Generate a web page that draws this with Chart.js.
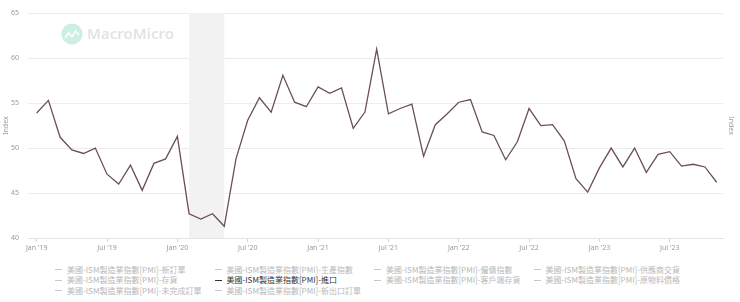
<!DOCTYPE html>
<html lang="zh-Hant">
  <head>
    <meta charset="UTF-8" />
    <title>ISM Imports</title>
    <script src="https://cdn.jsdelivr.net/npm/chart.js@4.4.0/dist/chart.umd.min.js"></script>
    <style>
      body { margin: 0; background: #fff; font-family: "Noto Sans", "Noto Sans CJK TC", sans-serif; }
      .wrap { position: relative; width: 740px; height: 302px; }
      .plot { position: absolute; left: 0; top: 0; width: 740px; height: 258px; }
      .legend {
        position: absolute; left: 55px; top: 264.5px;
        display: grid; grid-template-columns: repeat(4, 159.5px);
        font-size: 8px; line-height: 10.8px; color: #b8b8b8;
        font-family: "Noto Sans CJK TC", "Noto Sans", sans-serif;
      }
      .legend div { white-space: nowrap; }
      .legend span.dash {
        display: inline-block; width: 7px; height: 0; border-top: 1px solid #c8c8c8;
        vertical-align: middle; margin-right: 5px; position: relative; top: -1px;
      }
      .legend div.on { color: #333; }
      .legend div.on span.dash { border-top: 1.5px solid #333; }
    </style>
  </head>
  <body>
    <div class="wrap">
      <div class="plot"><canvas id="pmiChart"></canvas></div>
      <div class="legend" id="legend"></div>
    </div>

    <script>
      // monthly labels Jan 2019 - Nov 2023
      const months = [
        "Jan 2019", "Feb 2019", "Mar 2019", "Apr 2019", "May 2019", "Jun 2019",
        "Jul 2019", "Aug 2019", "Sep 2019", "Oct 2019", "Nov 2019", "Dec 2019",
        "Jan 2020", "Feb 2020", "Mar 2020", "Apr 2020", "May 2020", "Jun 2020",
        "Jul 2020", "Aug 2020", "Sep 2020", "Oct 2020", "Nov 2020", "Dec 2020",
        "Jan 2021", "Feb 2021", "Mar 2021", "Apr 2021", "May 2021", "Jun 2021",
        "Jul 2021", "Aug 2021", "Sep 2021", "Oct 2021", "Nov 2021", "Dec 2021",
        "Jan 2022", "Feb 2022", "Mar 2022", "Apr 2022", "May 2022", "Jun 2022",
        "Jul 2022", "Aug 2022", "Sep 2022", "Oct 2022", "Nov 2022", "Dec 2022",
        "Jan 2023", "Feb 2023", "Mar 2023", "Apr 2023", "May 2023", "Jun 2023",
        "Jul 2023", "Aug 2023", "Sep 2023", "Oct 2023", "Nov 2023"
      ];

      const importsIndex = [
        53.9, 55.3, 51.2, 49.8, 49.4, 50.0, 47.1, 46.0, 48.1, 45.3, 48.3, 48.8,
        51.3, 42.7, 42.1, 42.7, 41.3, 48.8, 53.1, 55.6, 54.0, 58.1, 55.1, 54.6,
        56.8, 56.1, 56.7, 52.2, 54.0, 61.0, 53.8, 54.4, 54.9, 49.1, 52.6, 53.8,
        55.1, 55.4, 51.8, 51.4, 48.7, 50.7, 54.4, 52.5, 52.6, 50.8, 46.6, 45.1,
        47.8, 50.0, 47.9, 50.0, 47.3, 49.3, 49.6, 48.0, 48.2, 47.9, 46.2
      ];

      const xTickLabels = [
        "Jan '19", "Jul '19", "Jan '20", "Jul '20", "Jan '21",
        "Jul '21", "Jan '22", "Jul '22", "Jan '23", "Jul '23"
      ];
      const yTicks = [40, 45, 50, 55, 60, 65];

      // shaded period (recession)
      const shadeFrom = "Feb 2020";
      const shadeTo = "May 2020";

      const seriesNames = [
        "美國-ISM製造業指數[PMI]-新訂單",
        "美國-ISM製造業指數[PMI]-生產指數",
        "美國-ISM製造業指數[PMI]-僱傭指數",
        "美國-ISM製造業指數[PMI]-供應商交貨",
        "美國-ISM製造業指數[PMI]-存貨",
        "美國-ISM製造業指數[PMI]-進口",
        "美國-ISM製造業指數[PMI]-客戶端存貨",
        "美國-ISM製造業指數[PMI]-原物料價格",
        "美國-ISM製造業指數[PMI]-未完成訂單",
        "美國-ISM製造業指數[PMI]-新出口訂單"
      ];
      const shownSeries = "美國-ISM製造業指數[PMI]-進口";

      // legend (html)
      const legendEl = document.getElementById("legend");
      seriesNames.forEach((name) => {
        const d = document.createElement("div");
        if (name === shownSeries) d.className = "on";
        d.innerHTML = '<span class="dash"></span>' + name;
        legendEl.appendChild(d);
      });

      const shadePlugin = {
        id: "shade",
        beforeDatasetsDraw(chart) {
          const { ctx, chartArea, scales } = chart;
          const x1 = scales.x.getPixelForValue(months.indexOf(shadeFrom));
          const x2 = scales.x.getPixelForValue(months.indexOf(shadeTo));
          ctx.save();
          ctx.fillStyle = "#f2f2f2";
          ctx.fillRect(x1, chartArea.top, x2 - x1, chartArea.bottom - chartArea.top);

          // watermark
          ctx.fillStyle = "#cdeee3";
          ctx.beginPath();
          ctx.arc(72, 34, 10.5, 0, Math.PI * 2);
          ctx.fill();
          ctx.strokeStyle = "#ffffff";
          ctx.lineWidth = 1.5;
          ctx.beginPath();
          ctx.moveTo(65, 38);
          ctx.lineTo(68.5, 33);
          ctx.lineTo(72, 37);
          ctx.lineTo(75.5, 31);
          ctx.lineTo(79, 35);
          ctx.stroke();
          ctx.fillStyle = "#e3e3e3";
          ctx.font = "600 15px 'Noto Sans', sans-serif";
          ctx.textBaseline = "middle";
          ctx.fillText("MacroMicro", 87, 35);
          ctx.restore();
        }
      };

      const ctx = document.getElementById("pmiChart").getContext("2d");
      new Chart(ctx, {
        type: "line",
        data: {
          datasets: [
            {
              label: shownSeries,
              data: importsIndex.map((v, i) => ({ x: i, y: v })),
              borderColor: "#6b4f52",
              borderWidth: 1.3,
              pointRadius: 0,
              tension: 0,
              yAxisID: "y"
            }
          ]
        },
        options: {
          responsive: true,
          maintainAspectRatio: false,
          animation: false,
          layout: { padding: { top: 7, left: 0, right: 0, bottom: 0 } },
          plugins: { legend: { display: false }, tooltip: { enabled: false } },
          scales: {
            x: {
              type: "linear",
              min: -0.74,
              max: 58.54,
              afterBuildTicks: (axis) => {
                axis.ticks = xTickLabels.map((_, i) => ({ value: i * 6 }));
              },
              afterFit: (axis) => { axis.height = 20; },
              ticks: {
                autoSkip: false,
                maxRotation: 0,
                padding: 2,
                color: "#9a9a9a",
                font: { size: 7, family: "'Noto Sans', sans-serif" },
                callback: (v) => xTickLabels[v / 6]
              },
              grid: { drawOnChartArea: false, drawTicks: true, tickLength: 4, color: "#d6d6d6" },
              border: { display: true, color: "#e4e4e4" }
            },
            y: {
              position: "left",
              min: 40,
              max: 65,
              afterBuildTicks: (axis) => {
                axis.ticks = yTicks.map((v) => ({ value: v }));
              },
              afterFit: (axis) => { axis.width = 28; },
              ticks: {
                padding: 9,
                color: "#9a9a9a",
                font: { size: 7, family: "'Noto Sans', sans-serif" }
              },
              grid: { color: "#ececec", drawTicks: false },
              border: { display: false },
              title: {
                display: true,
                text: "Index",
                color: "#9a9a9a",
                font: { size: 7, family: "'Noto Sans', sans-serif" },
                padding: { top: 2, bottom: 0 }
              }
            },
            y2: {
              position: "right",
              afterFit: (axis) => { axis.width = 17; },
              ticks: { display: false },
              grid: { display: false },
              border: { display: false },
              title: {
                display: true,
                text: "Index",
                color: "#9a9a9a",
                font: { size: 7, family: "'Noto Sans', sans-serif" },
                padding: { top: 5, bottom: 0 }
              }
            }
          }
        },
        plugins: [shadePlugin]
      });
    </script>
  </body>
</html>
